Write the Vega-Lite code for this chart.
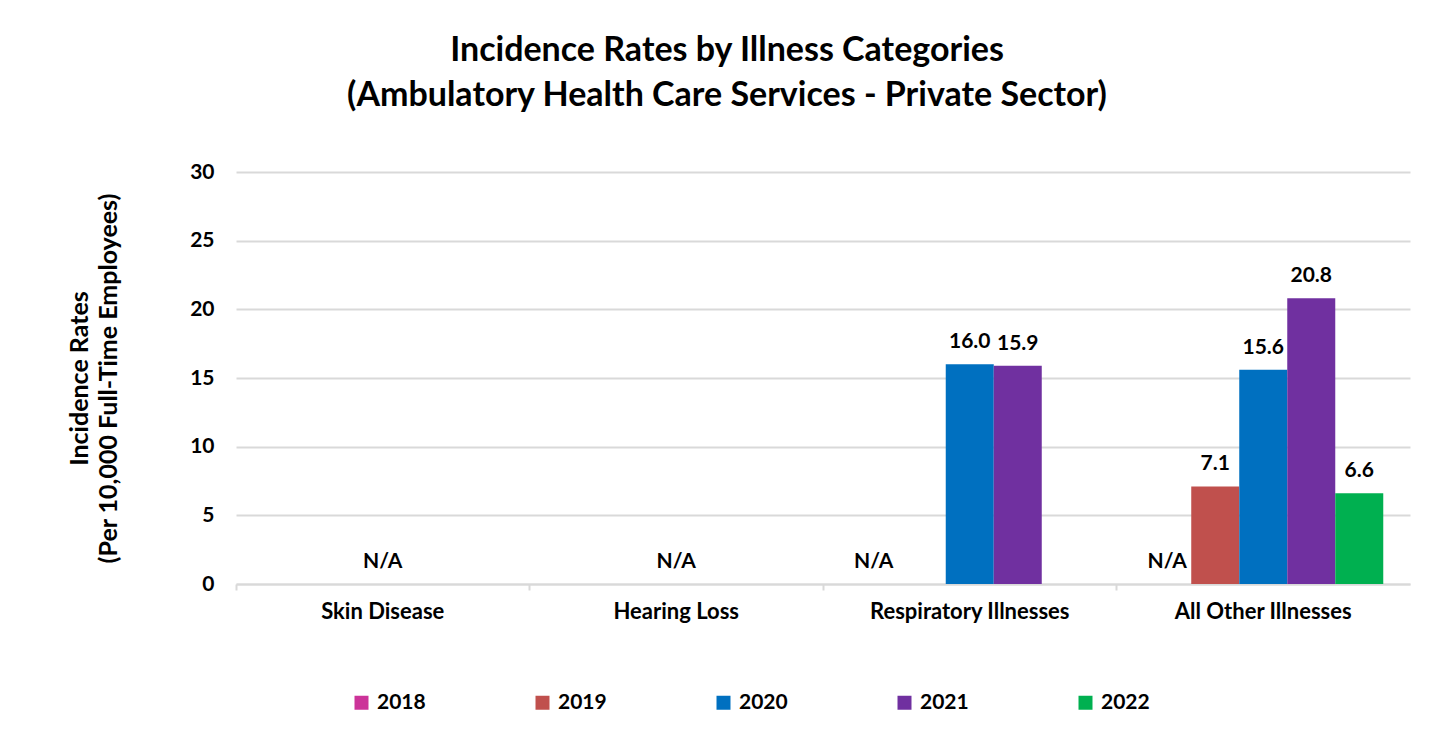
{
  "$schema": "https://vega.github.io/schema/vega-lite/v6.json",
  "width": 1174,
  "height": 412,
  "autosize": {"type": "none"},
  "padding": {"left": 236, "top": 172, "right": 37, "bottom": 166},
  "background": "white",
  "title": {
    "text": ["Incidence Rates by Illness Categories", "(Ambulatory Health Care Services - Private Sector)"],
    "font": "Lato",
    "fontSize": 34,
    "fontWeight": "bold",
    "color": "#000000",
    "lineHeight": 45,
    "anchor": "middle",
    "frame": "group",
    "dx": -96,
    "offset": 48
  },
  "config": {
    "view": {"stroke": null},
    "font": "Lato",
    "text": {"font": "Lato"}
  },
  "data": {
    "values": [
      {"category": "Skin Disease", "year": "2020", "value": null, "label": "N/A"},
      {"category": "Hearing Loss", "year": "2020", "value": null, "label": "N/A"},
      {"category": "Respiratory Illnesses", "year": "2018", "value": null, "label": "N/A"},
      {"category": "Respiratory Illnesses", "year": "2020", "value": 16.0, "label": "16.0"},
      {"category": "Respiratory Illnesses", "year": "2021", "value": 15.9, "label": "15.9"},
      {"category": "All Other Illnesses", "year": "2018", "value": null, "label": "N/A"},
      {"category": "All Other Illnesses", "year": "2019", "value": 7.1, "label": "7.1"},
      {"category": "All Other Illnesses", "year": "2020", "value": 15.6, "label": "15.6"},
      {"category": "All Other Illnesses", "year": "2021", "value": 20.8, "label": "20.8"},
      {"category": "All Other Illnesses", "year": "2022", "value": 6.6, "label": "6.6"}
    ]
  },
  "transform": [
    {"calculate": "datum.value == null ? 0 : datum.value", "as": "ypos"}
  ],
  "encoding": {
    "x": {
      "field": "category",
      "type": "nominal",
      "sort": ["Skin Disease", "Hearing Loss", "Respiratory Illnesses", "All Other Illnesses"],
      "scale": {"paddingInner": 0, "paddingOuter": 0},
      "axis": {
        "title": null,
        "labelAngle": 0,
        "labelFont": "Lato",
        "labelFontSize": 22,
        "labelFontWeight": "bold",
        "labelColor": "#000000",
        "labelPadding": 11,
        "labelLimit": 0,
        "bandPosition": 0,
        "ticks": true,
        "tickSize": 6,
        "tickColor": "#D9D9D9",
        "tickWidth": 2,
        "domainColor": "#D9D9D9",
        "domainWidth": 2,
        "grid": false
      }
    },
    "xOffset": {
      "field": "year",
      "type": "nominal",
      "scale": {"domain": ["2018", "2019", "2020", "2021", "2022"], "paddingInner": 0, "paddingOuter": 0.557}
    }
  },
  "layer": [
    {
      "mark": {"type": "bar"},
      "transform": [{"filter": "datum.value != null"}],
      "encoding": {
        "y": {
          "field": "value",
          "type": "quantitative",
          "scale": {"domain": [0, 30]},
          "axis": {
            "values": [0, 5, 10, 15, 20, 25, 30],
            "title": ["Incidence Rates", "(Per 10,000 Full-Time Employees)"],
            "titleFont": "Lato",
            "titleFontSize": 25,
            "titleFontWeight": "bold",
            "titleColor": "#000000",
            "titleLineHeight": 29,
            "titlePadding": 68,
            "labelFont": "Lato",
            "labelFontSize": 21,
            "labelFontWeight": "bold",
            "labelColor": "#000000",
            "labelPadding": 22,
            "ticks": false,
            "domain": false,
            "grid": true,
            "gridColor": "#D9D9D9",
            "gridWidth": 2
          }
        },
        "color": {
          "field": "year",
          "type": "nominal",
          "scale": {
            "domain": ["2018", "2019", "2020", "2021", "2022"],
            "range": ["#CC3399", "#C0504D", "#0070C0", "#7030A0", "#00B050"]
          },
          "legend": {
            "title": null,
            "orient": "none",
            "direction": "horizontal",
            "legendX": 115,
            "legendY": 520,
            "symbolType": "square",
            "symbolSize": 196,
            "symbolStrokeWidth": 0,
            "symbolOpacity": 1,
            "labelFont": "Lato",
            "labelFontSize": 21,
            "labelFontWeight": "bold",
            "labelColor": "#000000",
            "labelOffset": 5,
            "columnPadding": 106
          }
        }
      }
    },
    {
      "mark": {"type": "text", "fontSize": 21, "fontWeight": "bold", "color": "#000000", "baseline": "alphabetic", "dy": -16, "font": "Lato"},
      "encoding": {
        "y": {"field": "ypos", "type": "quantitative", "scale": {"domain": [0, 30]}},
        "text": {"field": "label", "type": "nominal"}
      }
    }
  ]
}
